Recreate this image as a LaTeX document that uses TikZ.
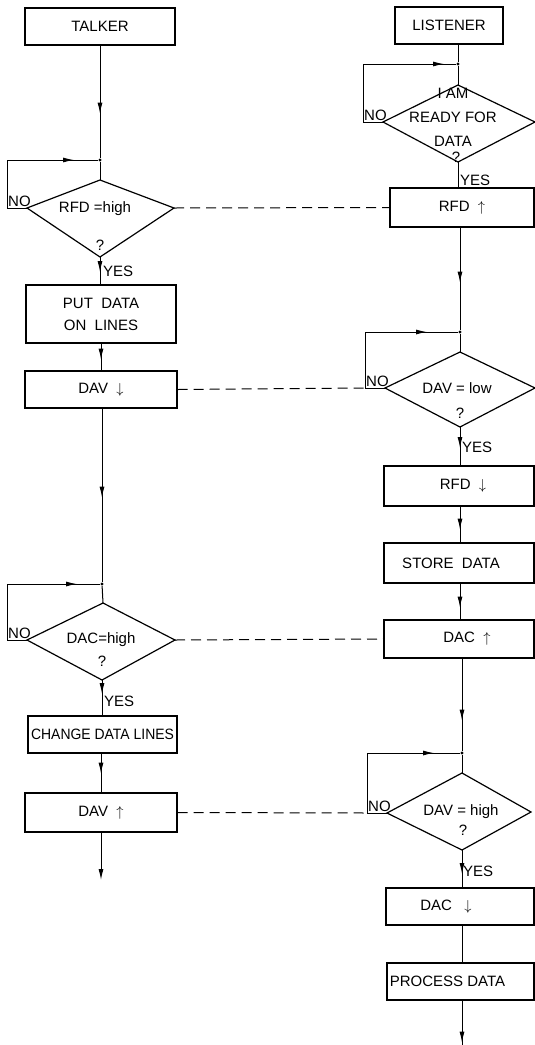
\documentclass[tikz,border=0pt]{standalone}
\usepackage{fontspec}
\usepackage{graphicx}
\setmainfont{Liberation Sans}
\usetikzlibrary{arrows.meta,decorations.markings}
\begin{document}
\begin{tikzpicture}[x=1pt,y=-1pt,
  txt/.style={font=\fontsize{15}{17}\selectfont, inner sep=0pt},
  box/.style={draw, line width=1.2pt, inner sep=0pt, font=\fontsize{15}{17}\selectfont, align=center},
  flow/.style={line width=1pt},
  dia/.style={line width=1.2pt, line join=miter},
  link/.style={line width=1pt, dash pattern=on 10pt off 6pt},
  marr/.style={postaction={decorate},decoration={markings,mark=at position #1 with {\arrow{Latex[length=11pt,width=5pt]}}}},
  dot/.style={fill, circle, inner sep=0pt, minimum size=3.4pt}
]
\useasboundingbox (0,0) rectangle (535,1045);

% ---------------- left column (talker) ----------------
\node[box, minimum width=150pt, minimum height=37pt] (talker) at (100,26.5) {TALKER};
\node[dot] (j1) at (100,160) {};
\coordinate (d1t) at (100,180);
\coordinate (d1l) at (27,208);
\coordinate (d1r) at (174,208);
\coordinate (d1b) at (100,257);
\draw[dia] (d1t) -- (d1r) -- (d1b) -- (d1l) -- cycle;
\node[txt] (d1a) at (95,209) {RFD =high};
\node[txt] (d1q) at (100,245) {?};
\coordinate (c1a) at (7,208);
\coordinate (c1b) at (7,160);
\node[box, minimum width=150pt, minimum height=58pt, font=\fontsize{15}{22}\selectfont] (put) at (101,314) {PUT\ \ DATA\\ON\ \ LINES};
\node[box, minimum width=152pt, minimum height=37pt] (dav1) at (101,389.5) {DAV\ \ $\downarrow$};
\node[dot] (j2) at (102,584) {};
\coordinate (d2t) at (103,603);
\coordinate (d2l) at (27,640);
\coordinate (d2r) at (175,640);
\coordinate (d2b) at (102,680);
\draw[dia] (d2t) -- (d2r) -- (d2b) -- (d2l) -- cycle;
\node[txt] (d2a) at (101,640) {DAC=high};
\node[txt] (d2q) at (102,661) {?};
\coordinate (c2a) at (7,640);
\coordinate (c2b) at (7,584);
\node[box, minimum width=149pt, minimum height=37pt] (change) at (102.5,734.5) {\scalebox{0.93}[1]{CHANGE DATA LINES}};
\node[box, minimum width=152pt, minimum height=39pt] (dav2) at (101,812.5) {DAV\ \ $\uparrow$};
\coordinate (e1) at (101,880);

\draw[flow, marr=68pt] (talker.south) -- (j1);
\draw[flow] (j1) -- (d1t);
\draw[flow, marr=135pt] (d1l) -- (c1a) -- (c1b) -- (j1);
\draw[flow, marr=15pt] (d1b) -- (put.north -| d1b);
\draw[flow, marr=16pt] (put.south) -- (dav1.north -| put.south);
\draw[flow, marr=89pt] (dav1.south -| j2) -- (j2);
\draw[flow] (j2) -- (d2t);
\draw[flow, marr=146pt] (d2l) -- (c2a) -- (c2b) -- (j2);
\draw[flow, marr=14pt] (d2b) -- (change.north -| d2b);
\draw[flow, marr=20pt] (change.south -| dav2.south) -- (dav2.north);
\draw[flow, -{Latex[length=11pt,width=5pt]}] (dav2.south) -- (e1);

\node[txt, anchor=south west, inner sep=1pt] (no1) at (c1a) {NO};
\node[txt, anchor=west] (yes1) at (103,271) {YES};
\node[txt, anchor=south west, inner sep=1pt] (no2) at (c2a) {NO};
\node[txt, anchor=west] (yes2) at (104,701) {YES};

% ---------------- right column (listener) ----------------
\node[box, minimum width=108pt, minimum height=37pt] (listener) at (449,25.5) {LISTENER};
\node[dot] (j3) at (458,64) {};
\coordinate (d3t) at (458,85);
\coordinate (d3l) at (383,122);
\coordinate (d3r) at (535,122);
\coordinate (d3b) at (458,162);
\draw[dia] (d3t) -- (d3r) -- (d3b) -- (d3l) -- cycle;
\node[txt, align=center, font=\fontsize{15}{24}\selectfont] (d3a) at (453,117) {I AM\\READY FOR\\DATA};
\node[txt] (d3q) at (456,157) {?};
\coordinate (c3a) at (363,122);
\coordinate (c3b) at (363,64);
\node[box, minimum width=144pt, minimum height=39pt] (rfdup) at (462,207.5) {RFD\ \ $\uparrow$};
\node[dot] (j4) at (460,332) {};
\coordinate (d4t) at (460,352);
\coordinate (d4l) at (385,388);
\coordinate (d4r) at (535,388);
\coordinate (d4b) at (460,427);
\draw[dia] (d4t) -- (d4r) -- (d4b) -- (d4l) -- cycle;
\node[txt] (d4a) at (457,388) {DAV = low};
\node[txt] (d4q) at (460,413) {?};
\coordinate (c4a) at (365,388);
\coordinate (c4b) at (365,332);
\node[box, minimum width=150pt, minimum height=40pt] (rfddn) at (459,486) {\hspace*{8pt}RFD\ \ $\downarrow$};
\node[box, minimum width=150pt, minimum height=40pt] (store) at (459,563) {STORE\ \ DATA\hspace*{16pt}};
\node[box, minimum width=150pt, minimum height=38pt] (dacup) at (459,639) {\hspace*{16pt}DAC\ \ $\uparrow$};
\node[dot] (j5) at (462,753) {};
\coordinate (d5t) at (462,773);
\coordinate (d5l) at (387,813);
\coordinate (d5r) at (531,812);
\coordinate (d5b) at (462,850);
\draw[dia] (d5t) -- (d5r) -- (d5b) -- (d5l) -- cycle;
\node[txt] (d5a) at (461,812) {DAV = high};
\node[txt] (d5q) at (463,830) {?};
\coordinate (c5a) at (367,813);
\coordinate (c5b) at (367,753);
\node[box, minimum width=148pt, minimum height=37pt] (dacdn) at (460,906.5) {DAC\ \ \ $\downarrow$\hspace*{28pt}};
\node[box, minimum width=147pt, minimum height=37pt] (process) at (460.5,981.5) {PROCESS DATA\hspace*{26pt}};
\coordinate (e2) at (462,1045);

\draw[flow] (listener.south -| j3) -- (j3);
\draw[flow] (j3) -- (d3t);
\draw[flow, marr=159pt] (d3l) -- (c3a) -- (c3b) -- (j3);
\draw[flow] (d3b) -- (rfdup.north -| d3b);
\draw[flow, marr=55pt] (rfdup.south -| j4) -- (j4);
\draw[flow] (j4) -- (d4t);
\draw[flow, marr=138pt] (d4l) -- (c4a) -- (c4b) -- (j4);
\draw[flow, marr=21pt] (d4b) -- (rfddn.north -| d4b);
\draw[flow, marr=23pt] (rfddn.south -| d4b) -- (store.north -| d4b);
\draw[flow, marr=24pt] (store.south -| d4b) -- (dacup.north -| d4b);
\draw[flow, marr=62pt] (dacup.south -| j5) -- (j5);
\draw[flow] (j5) -- (d5t);
\draw[flow, marr=147pt] (d5l) -- (c5a) -- (c5b) -- (j5);
\draw[flow, marr=24pt] (d5b) -- (dacdn.north -| d5b);
\draw[flow] (dacdn.south -| d5b) -- (process.north -| d5b);
\draw[flow, marr=42pt] (process.south -| e2) -- (e2);

\node[txt, anchor=south west, inner sep=1pt] (no3) at (c3a) {NO};
\node[txt, anchor=west] (yes3) at (460,180) {YES};
\node[txt, anchor=south west, inner sep=1pt] (no4) at (c4a) {NO};
\node[txt, anchor=west] (yes4) at (462,447) {YES};
\node[txt, anchor=south west, inner sep=1pt] (no5) at (c5a) {NO};
\node[txt, anchor=west] (yes5) at (463,871) {YES};

% ---------------- handshake links ----------------
\draw[link] (d1r) -- (rfdup.west);
\draw[link] (dav1.east) -- (c4a);
\draw[link] (d2r) -- (dacup.west);
\draw[link] (dav2.east) -- (c5a);
\end{tikzpicture}
\end{document}
